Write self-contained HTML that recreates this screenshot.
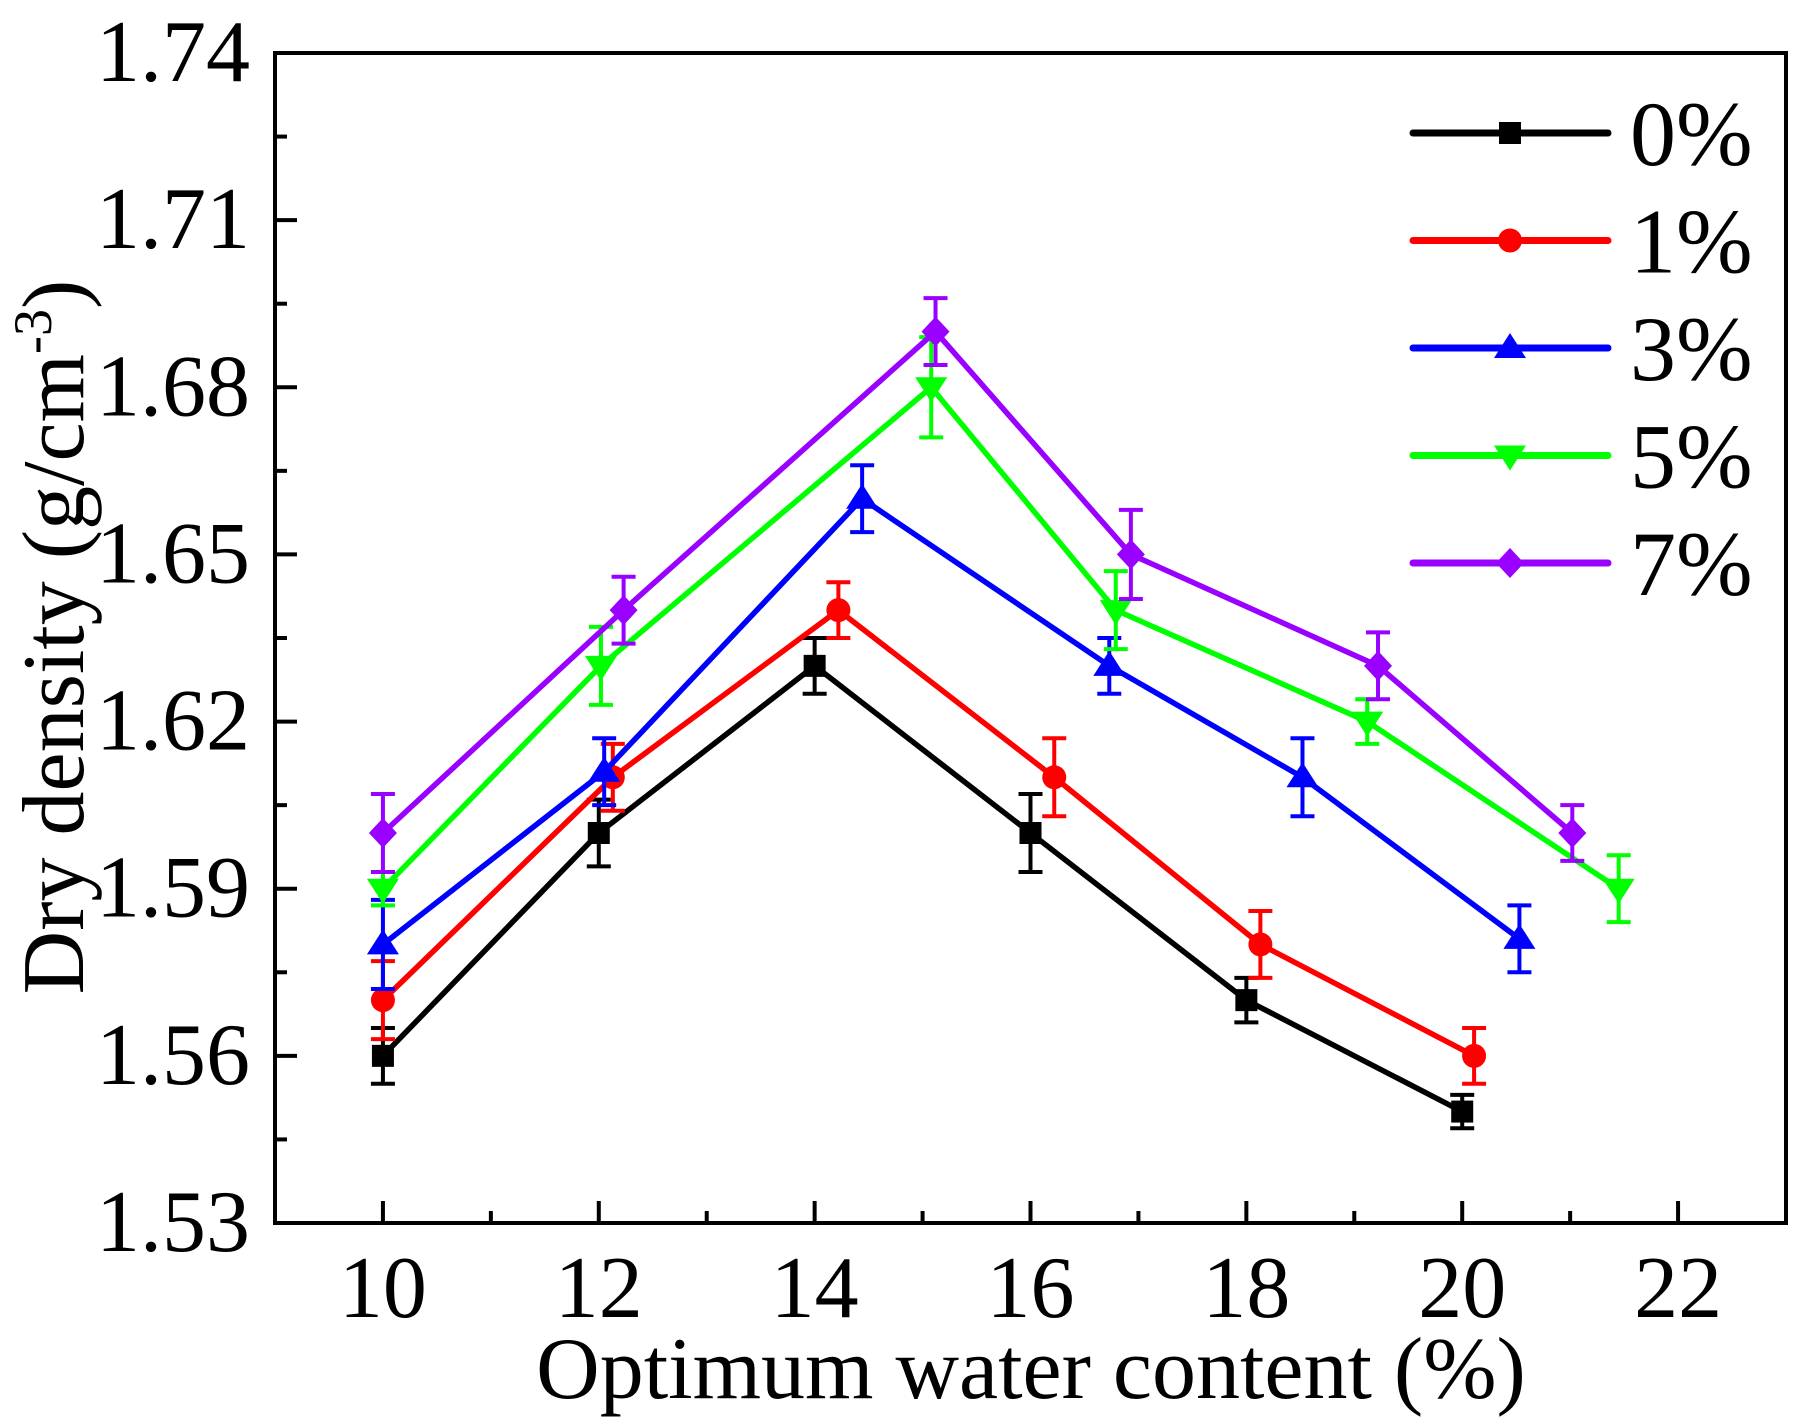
<!DOCTYPE html>
<html><head><meta charset="utf-8">
<style>
html,body{margin:0;padding:0;background:#fff;}
svg{display:block;font-family:"Liberation Serif",serif;}
</style></head>
<body>
<svg id="chart" width="1807" height="1426" viewBox="0 0 1807 1426" xmlns="http://www.w3.org/2000/svg">
<g id="axes"></g>
<g id="series"></g>
<g id="legend"></g>
<text x="1031" y="1398" font-size="88" text-anchor="middle">Optimum water content (%)</text>
<text transform="translate(83,637) rotate(-90)" font-size="88" text-anchor="middle">Dry density (g/cm<tspan dy="-32" font-size="54">-3</tspan><tspan dy="32">)</tspan></text>
</svg>
<script>
const xTicks = [10,12,14,16,18,20,22];
const yTicks = [1.53,1.56,1.59,1.62,1.65,1.68,1.71,1.74];
const seriesNames = ["0%","1%","3%","5%","7%"];
const seriesColors = ["#000000","#ff0000","#0000ff","#00ff00","#9900ff"];
const seriesMarkers = ["square","circle","triangle","tridown","diamond"];
const x0 = [10,12,14,16,18,20];
const y0 = [1.560,1.600,1.630,1.600,1.570,1.550];
const e0 = [0.005,0.006,0.005,0.007,0.004,0.003];
const x1 = [10,12.13,14.22,16.22,18.13,20.11];
const y1 = [1.570,1.610,1.640,1.610,1.580,1.560];
const e1 = [0.007,0.006,0.005,0.007,0.006,0.005];
const x3 = [10,12.05,14.44,16.73,18.52,20.53];
const y3 = [1.580,1.611,1.660,1.630,1.610,1.581];
const e3 = [0.008,0.006,0.006,0.005,0.007,0.006];
const x5 = [10,12.02,15.08,16.79,19.12,21.45];
const y5 = [1.590,1.630,1.680,1.640,1.620,1.590];
const e5 = [0.003,0.007,0.009,0.007,0.004,0.006];
const x7 = [10,12.23,15.12,16.93,19.22,21.02];
const y7 = [1.600,1.640,1.690,1.650,1.630,1.600];
const e7 = [0.007,0.006,0.006,0.008,0.006,0.005];
const allX=[x0,x1,x3,x5,x7], allY=[y0,y1,y3,y5,y7], allE=[e0,e1,e3,e5,e7];

const L=275,R=1786,T=53,B=1223, XMIN=9,XMAX=23,YMIN=1.53,YMAX=1.74;
const sx=v=>L+(v-XMIN)/(XMAX-XMIN)*(R-L);
const sy=v=>B-(v-YMIN)/(YMAX-YMIN)*(B-T);
const NS="http://www.w3.org/2000/svg";
function mk(tag,attrs,parent){const e=document.createElementNS(NS,tag);for(const k in attrs)e.setAttribute(k,attrs[k]);parent.appendChild(e);return e;}
const axes=document.getElementById('axes');
const frame=mk('rect',{x:L,y:T,width:R-L,height:B-T,fill:'none',stroke:'#000','stroke-width':4},axes);


xTicks.forEach(t=>{
  const l=mk('line',{x1:sx(t),x2:sx(t),y1:B,y2:B-22,stroke:'#000','stroke-width':4},axes);
  
  
  const m=mk('line',{x1:sx(t-1),x2:sx(t-1),y1:B,y2:B-12,stroke:'#000','stroke-width':4},axes);
  
  
  const tx=mk('text',{x:sx(t),y:1317,'font-size':88,'text-anchor':'middle'},axes);
  tx.textContent=t;
  
  
});
yTicks.forEach((t,i)=>{
  const l=mk('line',{x1:L,x2:L+22,y1:sy(t),y2:sy(t),stroke:'#000','stroke-width':4},axes);
  
  
  if(i<yTicks.length-1){
    const m=mk('line',{x1:L,x2:L+12,y1:sy(t+0.015),y2:sy(t+0.015),stroke:'#000','stroke-width':4},axes);
    
    
  }
  const tx=mk('text',{x:250,y:sy(t)+28,'font-size':88,'text-anchor':'end'},axes);
  tx.textContent=t.toFixed(2);
  
  
});
function marker(type,cx,cy,color,parent){
  let e;
  if(type==='square') e=mk('rect',{x:cx-11,y:cy-11,width:22,height:22,fill:color},parent);
  else if(type==='circle') e=mk('circle',{cx:cx,cy:cy,r:12,fill:color},parent);
  else if(type==='triangle') e=mk('polygon',{points:`${cx},${cy-15} ${cx-16},${cy+10} ${cx+16},${cy+10}`,fill:color},parent);
  else if(type==='tridown') e=mk('polygon',{points:`${cx},${cy+15} ${cx-16},${cy-10} ${cx+16},${cy-10}`,fill:color},parent);
  else e=mk('polygon',{points:`${cx},${cy-15} ${cx+14},${cy} ${cx},${cy+15} ${cx-14},${cy}`,fill:color},parent);
  return e;
}
const sg=document.getElementById('series');
allX.forEach((xs,si)=>{
  const c=seriesColors[si];
  const g=mk('g',{},sg);
  
  
  const pl=mk('polyline',{points:xs.map((x,i)=>sx(x)+','+sy(allY[si][i])).join(' '),fill:'none',stroke:c,'stroke-width':5.5,'stroke-linejoin':'round'},g);
  
  
  xs.forEach((x,i)=>{
    const X=sx(x),yt=sy(allY[si][i]+allE[si][i]),yb=sy(allY[si][i]-allE[si][i]);
    const eb=mk('path',{d:`M${X},${yt}V${yb}M${X-12},${yt}H${X+12}M${X-12},${yb}H${X+12}`,stroke:c,'stroke-width':4,fill:'none'},g);
    
    
    const m=marker(seriesMarkers[si],X,sy(allY[si][i]),c,g);
    
    
  });
});
const lg=document.getElementById('legend');
seriesNames.forEach((n,i)=>{
  const y=133+i*107.5;
  const g=mk('g',{},lg);
  
  
  const l=mk('line',{x1:1413,x2:1608,y1:y,y2:y,stroke:seriesColors[i],'stroke-width':7,'stroke-linecap':'round'},g);
  
  
  const m=marker(seriesMarkers[i],1510,y,seriesColors[i],g);
  
  
  const t=mk('text',{x:1630,y:y+32,'font-size':92},g);
  t.textContent=n;
  
  
});
</script>
</body></html>
